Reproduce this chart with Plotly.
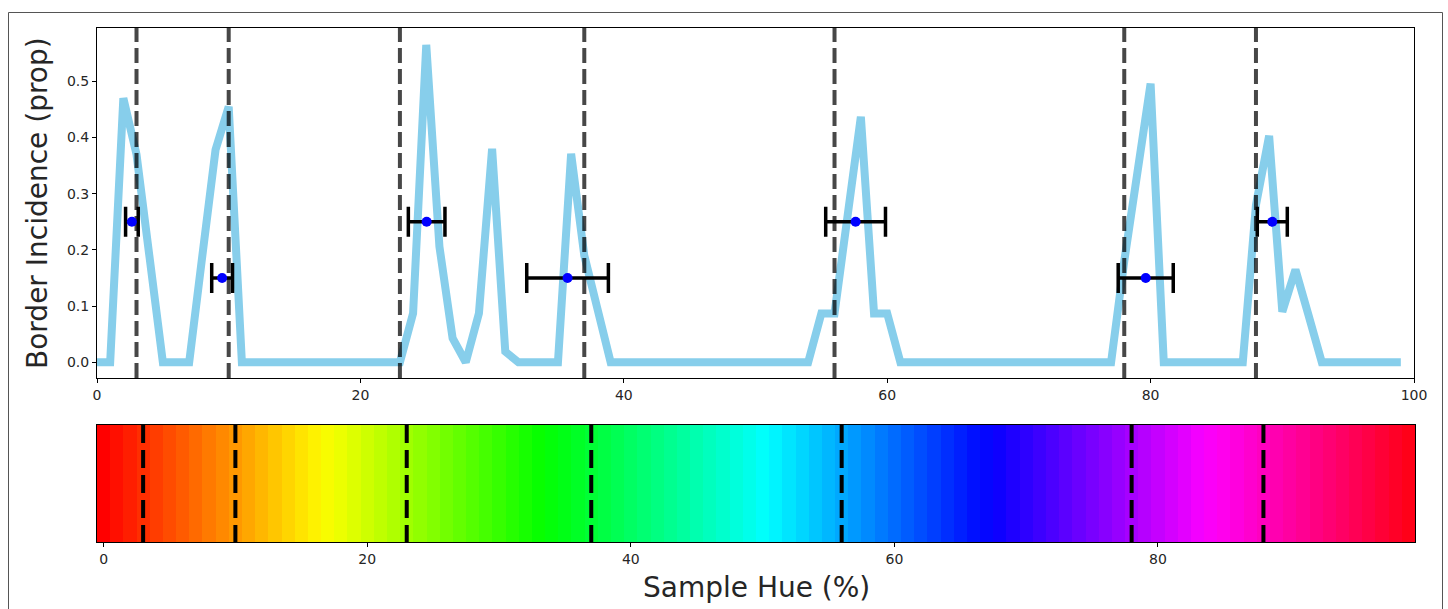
import numpy as np
import plotly.graph_objects as go

# ---------------- data ----------------
hue_pct = list(range(100))
border_incidence = [
    0.0, 0.0, 0.47, 0.37, 0.185, 0.0, 0.0, 0.0, 0.19, 0.378,      # 0-9
    0.455, 0.0, 0.0, 0.0, 0.0, 0.0, 0.0, 0.0, 0.0, 0.0,           # 10-19
    0.0, 0.0, 0.0, 0.0, 0.087, 0.565, 0.206, 0.043, 0.0, 0.087,   # 20-29
    0.38, 0.019, 0.0, 0.0, 0.0, 0.0, 0.371, 0.19, 0.095, 0.0,     # 30-39
    0.0, 0.0, 0.0, 0.0, 0.0, 0.0, 0.0, 0.0, 0.0, 0.0,             # 40-49
    0.0, 0.0, 0.0, 0.0, 0.0, 0.087, 0.087, 0.262, 0.437, 0.087,   # 50-59
    0.087, 0.0, 0.0, 0.0, 0.0, 0.0, 0.0, 0.0, 0.0, 0.0,           # 60-69
    0.0, 0.0, 0.0, 0.0, 0.0, 0.0, 0.0, 0.0, 0.18, 0.34,           # 70-79
    0.496, 0.0, 0.0, 0.0, 0.0, 0.0, 0.0, 0.0, 0.28, 0.403,        # 80-89
    0.09, 0.165, 0.083, 0.0, 0.0, 0.0, 0.0, 0.0, 0.0, 0.0,        # 90-99
]
boundary_hues = [3, 10, 23, 37, 56, 78, 88]
est_hue = [2.65, 9.5, 25.03, 35.73, 57.6, 79.63, 89.24]
est_level = [0.25, 0.15, 0.25, 0.15, 0.25, 0.15, 0.25]
est_err = [0.48, 0.79, 1.39, 3.1, 2.27, 2.09, 1.14]

top_xticks = [0, 20, 40, 60, 80, 100]
bottom_xticks = [0, 20, 40, 60, 80]
yticks = [0.0, 0.1, 0.2, 0.3, 0.4, 0.5]
y_range = [-0.028, 0.595]

y_title = "Border Incidence (prop)"
x_title = "Sample Hue (%)"

# ---------------- helpers ----------------
W, H = 1448, 609
FONT = "DejaVu Sans"
TXT = "#262626"


def fx(p):
    return p / W


def fy(p):
    return 1 - p / H


# matplotlib 'hsv' colormap segment data
_r = [(0.0, 1.0), (0.158730, 1.0), (0.174603, 0.968750), (0.333333, 0.031250),
      (0.349206, 0.0), (0.666667, 0.0), (0.682540, 0.031250), (0.841270, 0.968750),
      (0.857143, 1.0), (1.0, 1.0)]
_g = [(0.0, 0.0), (0.158730, 0.937500), (0.174603, 1.0), (0.507937, 1.0),
      (0.666667, 0.062500), (0.682540, 0.0), (1.0, 0.0)]
_b = [(0.0, 0.0), (0.333333, 0.0), (0.349206, 0.062500), (0.507937, 1.0),
      (0.841270, 1.0), (0.857143, 0.937500), (1.0, 0.09375)]


def _ch(seg, t):
    xs = [s[0] for s in seg]
    ys = [s[1] for s in seg]
    return float(np.interp(t, xs, ys))


def hsv_cmap(t):
    return "rgb(%d,%d,%d)" % (round(255 * _ch(_r, t)), round(255 * _ch(_g, t)), round(255 * _ch(_b, t)))


n = len(hue_pct)
colorscale = []
for i in range(n):
    c = hsv_cmap(i / (n - 1))
    colorscale.append([i / n, c])
    colorscale.append([(i + 1) / n, c])

# ---------------- figure ----------------
fig = go.Figure()

fig.add_trace(go.Scatter(
    x=hue_pct, y=border_incidence, mode="lines",
    line=dict(color="#87CEEB", width=8),
    xaxis="x", yaxis="y", hoverinfo="skip", showlegend=False,
))

vx, vy = [], []
for b in boundary_hues:
    vx += [b, b, None]
    vy += [y_range[0], y_range[1], None]
fig.add_trace(go.Scatter(
    x=vx, y=vy, mode="lines",
    line=dict(color="rgba(0,0,0,0.72)", width=4, dash="15px,6px"),
    xaxis="x", yaxis="y", hoverinfo="skip", showlegend=False,
))

fig.add_trace(go.Scatter(
    x=est_hue, y=est_level, mode="markers",
    marker=dict(color="#0000FF", size=10),
    error_x=dict(type="data", array=est_err, color="black", thickness=3.5, width=15),
    xaxis="x", yaxis="y", showlegend=False,
))

fig.add_trace(go.Heatmap(
    z=[hue_pct], x=hue_pct, y=[0],
    colorscale=colorscale, zmin=-0.5, zmax=n - 0.5, showscale=False,
    xaxis="x2", yaxis="y2", hoverinfo="skip",
))

cx, cy = [], []
for b in boundary_hues:
    cx += [b, b, None]
    cy += [0.5, -0.5, None]
fig.add_trace(go.Scatter(
    x=cx, y=cy, mode="lines",
    line=dict(color="black", width=4, dash="18px,7px"),
    xaxis="x2", yaxis="y2", hoverinfo="skip", showlegend=False,
))

axis_common = dict(
    showgrid=False, zeroline=False, showline=True, mirror=True,
    linecolor="black", linewidth=1, ticks="outside", ticklen=4, tickwidth=1,
    tickcolor="black", tickfont=dict(family=FONT, size=14, color=TXT),
    automargin=False,
)

fig.update_layout(
    width=W, height=H, autosize=False,
    margin=dict(l=0, r=0, t=0, b=0, pad=0),
    paper_bgcolor="white", plot_bgcolor="white",
    showlegend=False,
    xaxis=dict(domain=[fx(97), fx(1414)], range=[0, 100], tickvals=top_xticks,
               anchor="y", **axis_common),
    yaxis=dict(domain=[fy(378), fy(28)], range=y_range, tickvals=yticks,
               tickformat=".1f", anchor="x", **axis_common),
    xaxis2=dict(domain=[fx(97), fx(1415)], range=[-0.5, n - 0.5], tickvals=bottom_xticks,
                anchor="y2", **axis_common),
    yaxis2=dict(domain=[fy(542), fy(425)], range=[-0.5, 0.5], anchor="x2",
                showgrid=False, zeroline=False, showline=True, mirror=True,
                linecolor="black", linewidth=1, ticks="", showticklabels=False,
                automargin=False),
    annotations=[
        dict(text=y_title, xref="paper", yref="paper", x=fx(38), y=fy(203),
             xanchor="center", yanchor="middle", textangle=-90, showarrow=False,
             font=dict(family=FONT, size=28, color=TXT)),
        dict(text=x_title, xref="paper", yref="paper", x=fx(756), y=fy(587),
             xanchor="center", yanchor="middle", showarrow=False,
             font=dict(family=FONT, size=28, color=TXT)),
    ],
    shapes=[
        dict(type="rect", xref="paper", yref="paper",
             x0=fx(8.5), x1=fx(1442.5), y0=-0.2, y1=fy(12.5),
             line=dict(color="#555555", width=1), fillcolor="rgba(0,0,0,0)", layer="below"),
    ],
)

fig.write_html("out.html")
